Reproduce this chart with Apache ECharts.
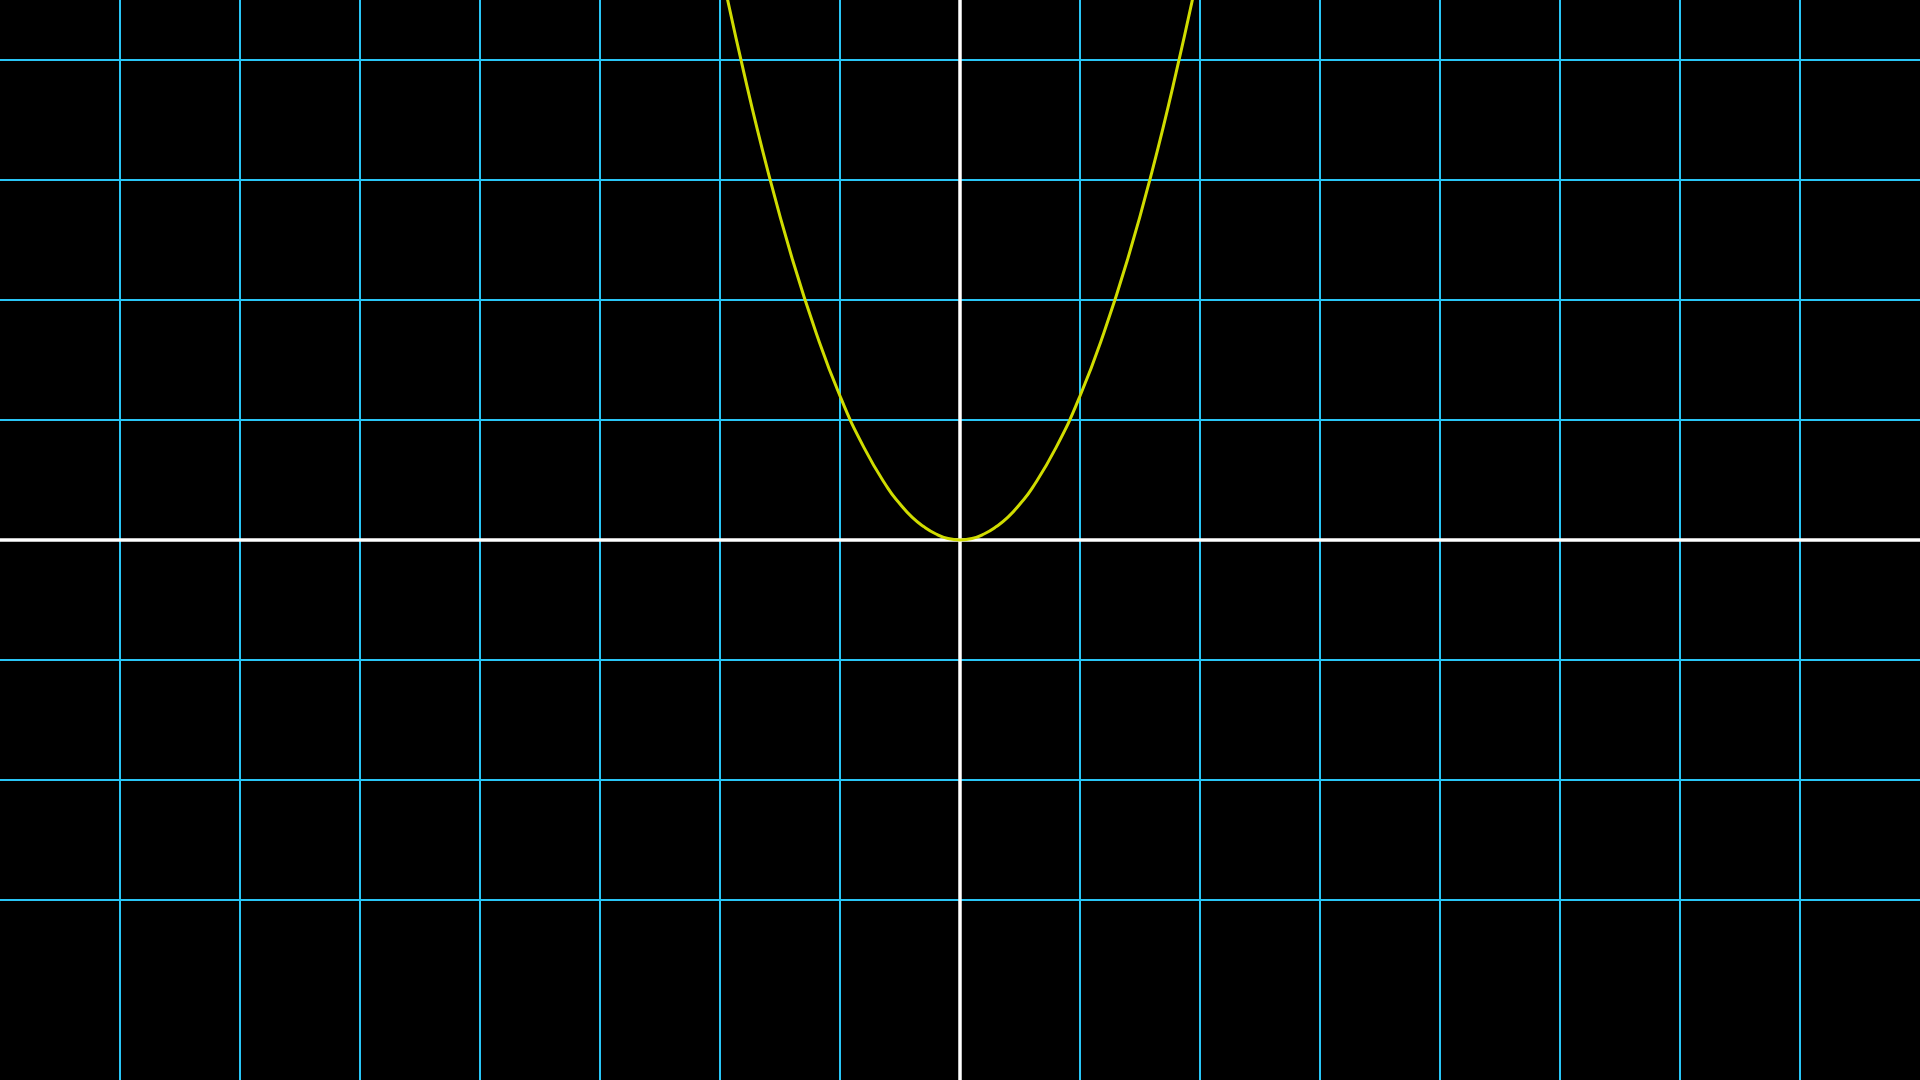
<!DOCTYPE html>
<html>
<head>
<meta charset="utf-8">
<script src="https://cdn.jsdelivr.net/npm/echarts@6/dist/echarts.min.js"></script>
<style>
html,body{margin:0;padding:0;background:#000;}
#chart{width:1920px;height:1080px;}
</style>
</head>
<body>
<div id="chart"></div>
<script>
// Curve samples (x, y)
const curveX = [-2.0, -1.8, -1.6, -1.4, -1.2, -1.0, -0.8, -0.6, -0.5, -0.4, -0.3, -0.2, -0.1, 0, 0.1, 0.2, 0.3, 0.4, 0.5, 0.6, 0.8, 1.0, 1.2, 1.4, 1.6, 1.8, 2.0];
const curveY = [4.8, 3.89, 3.07, 2.35, 1.73, 1.2, 0.77, 0.43, 0.3, 0.19, 0.11, 0.05, 0.012, 0, 0.012, 0.05, 0.11, 0.19, 0.3, 0.43, 0.77, 1.2, 1.73, 2.35, 3.07, 3.89, 4.8];
// Horizontal background grid lines (y values)
const yGridLines = [-3, -2, -1, 1, 2, 3, 4];
// Axis ranges (units)
const xRange = [-8, 8];
const yRange = [-4.5, 4.5];

const points = curveX.map((x, i) => [x, curveY[i]]);
const chart = echarts.init(document.getElementById('chart'));
chart.setOption({
  backgroundColor: '#000000',
  animation: false,
  grid: { left: 0, right: 0, top: 0, bottom: 0, containLabel: false },
  xAxis: {
    type: 'value', min: xRange[0], max: xRange[1], interval: 1, z: 3,
    axisLine: { show: true, onZero: true, lineStyle: { color: '#ffffff', width: 3.5 } },
    axisTick: { show: false }, axisLabel: { show: false },
    splitLine: { show: true, showMinLine: false, showMaxLine: false, lineStyle: { color: '#29C5F6', width: 2 } }
  },
  yAxis: {
    type: 'value', min: yRange[0], max: yRange[1], splitNumber: 9, z: 5,
    axisLine: { show: true, onZero: true, lineStyle: { color: '#ffffff', width: 3.5 } },
    axisTick: { show: false }, axisLabel: { show: false },
    splitLine: { show: false }
  },
  series: [
    {
      type: 'line', data: [], z: 1, silent: true,
      markLine: {
        silent: true, symbol: ['none', 'none'], z: 1,
        label: { show: false },
        lineStyle: { color: '#29C5F6', width: 2, type: 'solid' },
        emphasis: { disabled: true },
        data: yGridLines.map(v => ({ yAxis: v }))
      }
    },
    {
      type: 'line', data: points, smooth: true, showSymbol: false, clip: true, z: 10,
      lineStyle: { color: '#D0DC00', width: 3 }
    }
  ]
});
</script>
</body>
</html>
